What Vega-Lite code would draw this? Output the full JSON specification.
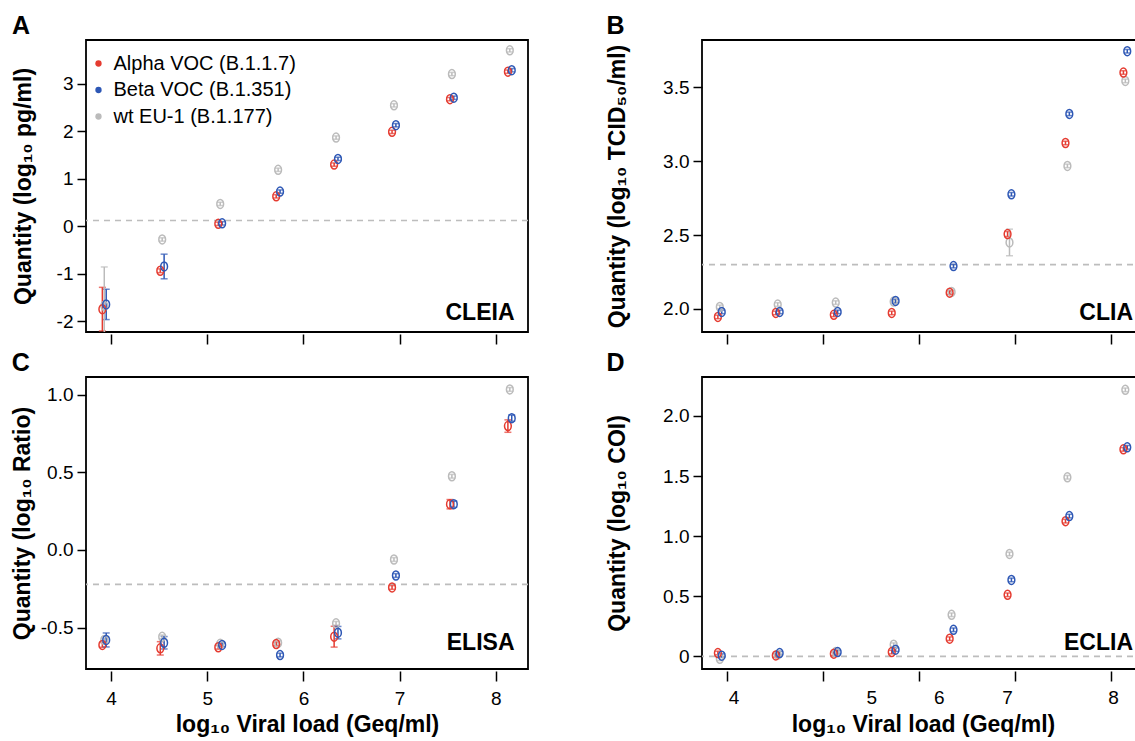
{
  "$schema": "https://vega.github.io/schema/vega-lite/v6.json",
  "padding": {"left": 10, "top": 13, "right": -8, "bottom": 0},
  "background": "white",
  "config": {
    "font": "Liberation Sans",
    "view": {"stroke": "black", "strokeWidth": 1.8},
    "axis": {"grid": false, "domain": false, "tickColor": "black", "tickWidth": 1.5, "tickSize": 9, "labelFontSize": 19, "labelColor": "black", "labelFont": "Liberation Sans", "titleFont": "Liberation Sans", "titleFontSize": 23, "titleFontWeight": "bold", "titleColor": "black", "labelPadding": 4},
    "axisX": {"offset": 2, "tickSize": 10, "labelPadding": 8, "titlePadding": 5},
    "axisY": {"labelAngle": 0},
    "title": {"fontSize": 25, "fontWeight": "bold", "anchor": "start", "frame": "bounds", "offset": 1, "color": "black", "font": "Liberation Sans"}
  },
  "datasets": {
    "cut": [{"p": "A", "c": 0.12}, {"p": "B", "c": 2.3}, {"p": "C", "c": -0.222}, {"p": "D", "c": 0}],
    "pts": [
      {"p": "A", "v": "wt EU-1 (B.1.177)", "x": 3.93, "y": -1.68, "lo": -2.5, "hi": -0.86},
      {"p": "A", "v": "wt EU-1 (B.1.177)", "x": 4.532, "y": -0.28, "lo": -0.315, "hi": -0.245},
      {"p": "A", "v": "wt EU-1 (B.1.177)", "x": 5.135, "y": 0.47, "lo": 0.435, "hi": 0.505},
      {"p": "A", "v": "wt EU-1 (B.1.177)", "x": 5.737, "y": 1.19, "lo": 1.155, "hi": 1.225},
      {"p": "A", "v": "wt EU-1 (B.1.177)", "x": 6.339, "y": 1.87, "lo": 1.835, "hi": 1.905},
      {"p": "A", "v": "wt EU-1 (B.1.177)", "x": 6.941, "y": 2.55, "lo": 2.515, "hi": 2.585},
      {"p": "A", "v": "wt EU-1 (B.1.177)", "x": 7.543, "y": 3.21, "lo": 3.175, "hi": 3.245},
      {"p": "A", "v": "wt EU-1 (B.1.177)", "x": 8.145, "y": 3.71, "lo": 3.675, "hi": 3.745},
      {"p": "A", "v": "Alpha VOC (B.1.1.7)", "x": 3.91, "y": -1.75, "lo": -2.21, "hi": -1.29},
      {"p": "A", "v": "Alpha VOC (B.1.1.7)", "x": 4.512, "y": -0.94, "lo": -0.98, "hi": -0.9},
      {"p": "A", "v": "Alpha VOC (B.1.1.7)", "x": 5.115, "y": 0.05, "lo": 0.015, "hi": 0.085},
      {"p": "A", "v": "Alpha VOC (B.1.1.7)", "x": 5.717, "y": 0.63, "lo": 0.595, "hi": 0.665},
      {"p": "A", "v": "Alpha VOC (B.1.1.7)", "x": 6.319, "y": 1.3, "lo": 1.265, "hi": 1.335},
      {"p": "A", "v": "Alpha VOC (B.1.1.7)", "x": 6.921, "y": 1.99, "lo": 1.955, "hi": 2.025},
      {"p": "A", "v": "Alpha VOC (B.1.1.7)", "x": 7.523, "y": 2.68, "lo": 2.645, "hi": 2.715},
      {"p": "A", "v": "Alpha VOC (B.1.1.7)", "x": 8.125, "y": 3.26, "lo": 3.225, "hi": 3.295},
      {"p": "A", "v": "Beta VOC (B.1.351)", "x": 3.95, "y": -1.65, "lo": -1.97, "hi": -1.33},
      {"p": "A", "v": "Beta VOC (B.1.351)", "x": 4.552, "y": -0.85, "lo": -1.11, "hi": -0.59},
      {"p": "A", "v": "Beta VOC (B.1.351)", "x": 5.155, "y": 0.06, "lo": 0.025, "hi": 0.095},
      {"p": "A", "v": "Beta VOC (B.1.351)", "x": 5.757, "y": 0.73, "lo": 0.695, "hi": 0.765},
      {"p": "A", "v": "Beta VOC (B.1.351)", "x": 6.359, "y": 1.42, "lo": 1.385, "hi": 1.455},
      {"p": "A", "v": "Beta VOC (B.1.351)", "x": 6.961, "y": 2.13, "lo": 2.095, "hi": 2.165},
      {"p": "A", "v": "Beta VOC (B.1.351)", "x": 7.563, "y": 2.71, "lo": 2.675, "hi": 2.745},
      {"p": "A", "v": "Beta VOC (B.1.351)", "x": 8.165, "y": 3.29, "lo": 3.255, "hi": 3.325},

      {"p": "B", "v": "wt EU-1 (B.1.177)", "x": 3.93, "y": 2.014, "lo": 2.002, "hi": 2.026},
      {"p": "B", "v": "wt EU-1 (B.1.177)", "x": 4.532, "y": 2.03, "lo": 2.018, "hi": 2.042},
      {"p": "B", "v": "wt EU-1 (B.1.177)", "x": 5.135, "y": 2.043, "lo": 2.031, "hi": 2.055},
      {"p": "B", "v": "wt EU-1 (B.1.177)", "x": 5.737, "y": 2.05, "lo": 2.038, "hi": 2.062},
      {"p": "B", "v": "wt EU-1 (B.1.177)", "x": 6.339, "y": 2.115, "lo": 2.103, "hi": 2.127},
      {"p": "B", "v": "wt EU-1 (B.1.177)", "x": 6.941, "y": 2.45, "lo": 2.36, "hi": 2.54},
      {"p": "B", "v": "wt EU-1 (B.1.177)", "x": 7.543, "y": 2.968, "lo": 2.956, "hi": 2.98},
      {"p": "B", "v": "wt EU-1 (B.1.177)", "x": 8.145, "y": 3.543, "lo": 3.531, "hi": 3.555},
      {"p": "B", "v": "Alpha VOC (B.1.1.7)", "x": 3.91, "y": 1.946, "lo": 1.934, "hi": 1.958},
      {"p": "B", "v": "Alpha VOC (B.1.1.7)", "x": 4.512, "y": 1.973, "lo": 1.961, "hi": 1.985},
      {"p": "B", "v": "Alpha VOC (B.1.1.7)", "x": 5.115, "y": 1.96, "lo": 1.948, "hi": 1.972},
      {"p": "B", "v": "Alpha VOC (B.1.1.7)", "x": 5.717, "y": 1.973, "lo": 1.961, "hi": 1.985},
      {"p": "B", "v": "Alpha VOC (B.1.1.7)", "x": 6.319, "y": 2.11, "lo": 2.098, "hi": 2.122},
      {"p": "B", "v": "Alpha VOC (B.1.1.7)", "x": 6.921, "y": 2.507, "lo": 2.49, "hi": 2.524},
      {"p": "B", "v": "Alpha VOC (B.1.1.7)", "x": 7.523, "y": 3.123, "lo": 3.111, "hi": 3.135},
      {"p": "B", "v": "Alpha VOC (B.1.1.7)", "x": 8.125, "y": 3.6, "lo": 3.588, "hi": 3.612},
      {"p": "B", "v": "Beta VOC (B.1.351)", "x": 3.95, "y": 1.98, "lo": 1.968, "hi": 1.992},
      {"p": "B", "v": "Beta VOC (B.1.351)", "x": 4.552, "y": 1.98, "lo": 1.968, "hi": 1.992},
      {"p": "B", "v": "Beta VOC (B.1.351)", "x": 5.155, "y": 1.98, "lo": 1.968, "hi": 1.992},
      {"p": "B", "v": "Beta VOC (B.1.351)", "x": 5.757, "y": 2.054, "lo": 2.042, "hi": 2.066},
      {"p": "B", "v": "Beta VOC (B.1.351)", "x": 6.359, "y": 2.29, "lo": 2.278, "hi": 2.302},
      {"p": "B", "v": "Beta VOC (B.1.351)", "x": 6.961, "y": 2.776, "lo": 2.764, "hi": 2.788},
      {"p": "B", "v": "Beta VOC (B.1.351)", "x": 7.563, "y": 3.32, "lo": 3.308, "hi": 3.332},
      {"p": "B", "v": "Beta VOC (B.1.351)", "x": 8.165, "y": 3.744, "lo": 3.732, "hi": 3.756},

      {"p": "C", "v": "wt EU-1 (B.1.177)", "x": 3.93, "y": -0.58, "lo": -0.592, "hi": -0.568},
      {"p": "C", "v": "wt EU-1 (B.1.177)", "x": 4.532, "y": -0.56, "lo": -0.572, "hi": -0.548},
      {"p": "C", "v": "wt EU-1 (B.1.177)", "x": 5.135, "y": -0.605, "lo": -0.617, "hi": -0.593},
      {"p": "C", "v": "wt EU-1 (B.1.177)", "x": 5.737, "y": -0.598, "lo": -0.61, "hi": -0.586},
      {"p": "C", "v": "wt EU-1 (B.1.177)", "x": 6.339, "y": -0.473, "lo": -0.485, "hi": -0.461},
      {"p": "C", "v": "wt EU-1 (B.1.177)", "x": 6.941, "y": -0.062, "lo": -0.074, "hi": -0.05},
      {"p": "C", "v": "wt EU-1 (B.1.177)", "x": 7.543, "y": 0.474, "lo": 0.462, "hi": 0.486},
      {"p": "C", "v": "wt EU-1 (B.1.177)", "x": 8.145, "y": 1.033, "lo": 1.021, "hi": 1.045},
      {"p": "C", "v": "Alpha VOC (B.1.1.7)", "x": 3.91, "y": -0.612, "lo": -0.627, "hi": -0.597},
      {"p": "C", "v": "Alpha VOC (B.1.1.7)", "x": 4.512, "y": -0.634, "lo": -0.677, "hi": -0.591},
      {"p": "C", "v": "Alpha VOC (B.1.1.7)", "x": 5.115, "y": -0.627, "lo": -0.639, "hi": -0.615},
      {"p": "C", "v": "Alpha VOC (B.1.1.7)", "x": 5.717, "y": -0.606, "lo": -0.618, "hi": -0.594},
      {"p": "C", "v": "Alpha VOC (B.1.1.7)", "x": 6.319, "y": -0.559, "lo": -0.626, "hi": -0.492},
      {"p": "C", "v": "Alpha VOC (B.1.1.7)", "x": 6.921, "y": -0.242, "lo": -0.254, "hi": -0.23},
      {"p": "C", "v": "Alpha VOC (B.1.1.7)", "x": 7.523, "y": 0.294, "lo": 0.264, "hi": 0.324},
      {"p": "C", "v": "Alpha VOC (B.1.1.7)", "x": 8.125, "y": 0.797, "lo": 0.757, "hi": 0.837},
      {"p": "C", "v": "Beta VOC (B.1.351)", "x": 3.95, "y": -0.58, "lo": -0.625, "hi": -0.535},
      {"p": "C", "v": "Beta VOC (B.1.351)", "x": 4.552, "y": -0.598, "lo": -0.638, "hi": -0.558},
      {"p": "C", "v": "Beta VOC (B.1.351)", "x": 5.155, "y": -0.612, "lo": -0.624, "hi": -0.6},
      {"p": "C", "v": "Beta VOC (B.1.351)", "x": 5.757, "y": -0.677, "lo": -0.689, "hi": -0.665},
      {"p": "C", "v": "Beta VOC (B.1.351)", "x": 6.359, "y": -0.533, "lo": -0.573, "hi": -0.493},
      {"p": "C", "v": "Beta VOC (B.1.351)", "x": 6.961, "y": -0.165, "lo": -0.177, "hi": -0.153},
      {"p": "C", "v": "Beta VOC (B.1.351)", "x": 7.563, "y": 0.294, "lo": 0.274, "hi": 0.314},
      {"p": "C", "v": "Beta VOC (B.1.351)", "x": 8.165, "y": 0.848, "lo": 0.828, "hi": 0.868},

      {"p": "D", "v": "wt EU-1 (B.1.177)", "x": 3.93, "y": -0.02, "lo": -0.035, "hi": -0.005},
      {"p": "D", "v": "wt EU-1 (B.1.177)", "x": 4.532, "y": 0.014, "lo": -0.001, "hi": 0.029},
      {"p": "D", "v": "wt EU-1 (B.1.177)", "x": 5.135, "y": 0.036, "lo": 0.021, "hi": 0.051},
      {"p": "D", "v": "wt EU-1 (B.1.177)", "x": 5.737, "y": 0.097, "lo": 0.082, "hi": 0.112},
      {"p": "D", "v": "wt EU-1 (B.1.177)", "x": 6.339, "y": 0.346, "lo": 0.331, "hi": 0.361},
      {"p": "D", "v": "wt EU-1 (B.1.177)", "x": 6.941, "y": 0.852, "lo": 0.837, "hi": 0.867},
      {"p": "D", "v": "wt EU-1 (B.1.177)", "x": 7.543, "y": 1.49, "lo": 1.475, "hi": 1.505},
      {"p": "D", "v": "wt EU-1 (B.1.177)", "x": 8.145, "y": 2.217, "lo": 2.202, "hi": 2.232},
      {"p": "D", "v": "Alpha VOC (B.1.1.7)", "x": 3.91, "y": 0.028, "lo": 0.013, "hi": 0.043},
      {"p": "D", "v": "Alpha VOC (B.1.1.7)", "x": 4.512, "y": 0.008, "lo": -0.007, "hi": 0.023},
      {"p": "D", "v": "Alpha VOC (B.1.1.7)", "x": 5.115, "y": 0.022, "lo": 0.007, "hi": 0.037},
      {"p": "D", "v": "Alpha VOC (B.1.1.7)", "x": 5.717, "y": 0.036, "lo": 0.021, "hi": 0.051},
      {"p": "D", "v": "Alpha VOC (B.1.1.7)", "x": 6.319, "y": 0.147, "lo": 0.132, "hi": 0.162},
      {"p": "D", "v": "Alpha VOC (B.1.1.7)", "x": 6.921, "y": 0.512, "lo": 0.497, "hi": 0.527},
      {"p": "D", "v": "Alpha VOC (B.1.1.7)", "x": 7.523, "y": 1.125, "lo": 1.11, "hi": 1.14},
      {"p": "D", "v": "Alpha VOC (B.1.1.7)", "x": 8.125, "y": 1.722, "lo": 1.707, "hi": 1.737},
      {"p": "D", "v": "Beta VOC (B.1.351)", "x": 3.95, "y": 0.006, "lo": -0.009, "hi": 0.021},
      {"p": "D", "v": "Beta VOC (B.1.351)", "x": 4.552, "y": 0.028, "lo": 0.013, "hi": 0.043},
      {"p": "D", "v": "Beta VOC (B.1.351)", "x": 5.155, "y": 0.036, "lo": 0.021, "hi": 0.051},
      {"p": "D", "v": "Beta VOC (B.1.351)", "x": 5.757, "y": 0.056, "lo": 0.041, "hi": 0.071},
      {"p": "D", "v": "Beta VOC (B.1.351)", "x": 6.359, "y": 0.221, "lo": 0.206, "hi": 0.236},
      {"p": "D", "v": "Beta VOC (B.1.351)", "x": 6.961, "y": 0.636, "lo": 0.621, "hi": 0.651},
      {"p": "D", "v": "Beta VOC (B.1.351)", "x": 7.563, "y": 1.167, "lo": 1.152, "hi": 1.182},
      {"p": "D", "v": "Beta VOC (B.1.351)", "x": 8.165, "y": 1.739, "lo": 1.724, "hi": 1.754}
    ]
  },
  "columns": 2,
  "spacing": {"row": 4, "column": 75},
  "resolve": {"scale": {"x": "independent", "y": "independent", "color": "independent"}, "legend": {"color": "independent"}},
  "concat": [
    {
      "title": {"text": "A"},
      "width": 442, "height": 292,
      "layer": [
        {"data": {"name": "cut"}, "transform": [{"filter": "datum.p === 'A'"}],
         "mark": {"type": "rule", "color": "#BDBDBD", "strokeWidth": 1.6, "strokeDash": [6, 5]},
         "encoding": {"y": {"field": "c", "type": "quantitative", "title": "Quantity (log₁₀ pg/ml)", "scale": {"domain": [-2.232, 3.928], "nice": false, "zero": false}}}},
        {"data": {"name": "pts"}, "transform": [{"filter": "datum.p === 'A'"}],
         "mark": {"type": "errorbar", "thickness": 1.5, "ticks": {"size": 7, "thickness": 1.5}, "clip": true},
         "encoding": {
           "x": {"field": "x", "type": "quantitative", "title": null, "scale": {"domain": [3.74, 8.334], "nice": false, "zero": false}},
           "y": {"field": "lo", "type": "quantitative", "title": "Quantity (log₁₀ pg/ml)", "scale": {"domain": [-2.232, 3.928], "nice": false, "zero": false}},
           "y2": {"field": "hi"},
           "color": {"field": "v", "type": "nominal", "scale": {"domain": ["Alpha VOC (B.1.1.7)", "Beta VOC (B.1.351)", "wt EU-1 (B.1.177)"], "range": ["#E53B30", "#2D57B5", "#BBBBBB"]},
             "legend": {"orient": "none", "legendX": 2.5, "legendY": 13.5, "title": null, "padding": 0, "labelFontSize": 20, "labelColor": "black", "labelFont": "Liberation Sans", "labelLimit": 400, "labelOffset": 5, "rowPadding": 6.5, "symbolType": "circle", "symbolSize": 12, "symbolStrokeWidth": 3.2, "symbolOpacity": 1,
               "encode": {"symbols": {"update": {"fill": {"signal": "datum.value === 'Alpha VOC (B.1.1.7)' ? '#E53B30' : datum.value === 'Beta VOC (B.1.351)' ? '#2D57B5' : '#BBBBBB'"}, "fillOpacity": {"value": 1}, "opacity": {"value": 1}, "strokeWidth": {"value": 0}, "size": {"value": 40}}}}}}}},
        {"data": {"name": "pts"}, "transform": [{"filter": "datum.p === 'A'"}],
         "mark": {"type": "point", "shape": "M-0.75,0A0.75,1,0,1,1,0.75,0A0.75,1,0,1,1,-0.75,0Z", "filled": false, "size": 81, "strokeWidth": 1.5, "opacity": 1},
         "encoding": {
           "x": {"field": "x", "type": "quantitative", "title": null, "scale": {"domain": [3.74, 8.334], "nice": false, "zero": false}, "axis": {"values": [4, 5, 6, 7, 8], "labels": false}},
           "y": {"field": "y", "type": "quantitative", "title": "Quantity (log₁₀ pg/ml)", "scale": {"domain": [-2.232, 3.928], "nice": false, "zero": false}, "axis": {"values": [-2, -1, 0, 1, 2, 3], "labelExpr": "datum.value < 0 ? '-' + format(-datum.value, 'd') : format(datum.value, 'd')", "titlePadding": 21}},
           "color": {"field": "v", "type": "nominal", "scale": {"domain": ["Alpha VOC (B.1.1.7)", "Beta VOC (B.1.351)", "wt EU-1 (B.1.177)"], "range": ["#E53B30", "#2D57B5", "#BBBBBB"]},
             "legend": {"orient": "none", "legendX": 2.5, "legendY": 13.5, "title": null, "padding": 0, "labelFontSize": 20, "labelColor": "black", "labelFont": "Liberation Sans", "labelLimit": 400, "labelOffset": 5, "rowPadding": 6.5, "symbolType": "circle", "symbolSize": 12, "symbolStrokeWidth": 3.2, "symbolOpacity": 1,
               "encode": {"symbols": {"update": {"fill": {"signal": "datum.value === 'Alpha VOC (B.1.1.7)' ? '#E53B30' : datum.value === 'Beta VOC (B.1.351)' ? '#2D57B5' : '#BBBBBB'"}, "fillOpacity": {"value": 1}, "opacity": {"value": 1}, "strokeWidth": {"value": 0}, "size": {"value": 40}}}}}}}},
        {"data": {"values": [{"t": "CLEIA"}]},
         "mark": {"type": "text", "align": "right", "baseline": "alphabetic", "dx": -13.5, "dy": -12, "fontSize": 23, "fontWeight": "bold", "color": "black"},
         "encoding": {"text": {"field": "t"}, "x": {"value": "width"}, "y": {"value": "height"}}}
      ]
    },
    {
      "title": {"text": "B"},
      "width": 442, "height": 292,
      "layer": [
        {"data": {"name": "cut"}, "transform": [{"filter": "datum.p === 'B'"}],
         "mark": {"type": "rule", "color": "#BDBDBD", "strokeWidth": 1.6, "strokeDash": [6, 5]},
         "encoding": {"y": {"field": "c", "type": "quantitative", "title": "Quantity (log₁₀ TCID₅₀/ml)", "scale": {"domain": [1.844, 3.82], "nice": false, "zero": false}}}},
        {"data": {"name": "pts"}, "transform": [{"filter": "datum.p === 'B'"}],
         "mark": {"type": "errorbar", "thickness": 1.5, "ticks": {"size": 7, "thickness": 1.5}, "clip": true},
         "encoding": {
           "x": {"field": "x", "type": "quantitative", "title": null, "scale": {"domain": [3.745, 8.339], "nice": false, "zero": false}},
           "y": {"field": "lo", "type": "quantitative", "title": "Quantity (log₁₀ TCID₅₀/ml)", "scale": {"domain": [1.844, 3.82], "nice": false, "zero": false}},
           "y2": {"field": "hi"},
           "color": {"field": "v", "type": "nominal", "scale": {"domain": ["Alpha VOC (B.1.1.7)", "Beta VOC (B.1.351)", "wt EU-1 (B.1.177)"], "range": ["#E53B30", "#2D57B5", "#BBBBBB"]}, "legend": null}}},
        {"data": {"name": "pts"}, "transform": [{"filter": "datum.p === 'B'"}],
         "mark": {"type": "point", "shape": "M-0.75,0A0.75,1,0,1,1,0.75,0A0.75,1,0,1,1,-0.75,0Z", "filled": false, "size": 81, "strokeWidth": 1.5, "opacity": 1},
         "encoding": {
           "x": {"field": "x", "type": "quantitative", "title": null, "scale": {"domain": [3.745, 8.339], "nice": false, "zero": false}, "axis": {"values": [4, 5, 6, 7, 8], "labels": false}},
           "y": {"field": "y", "type": "quantitative", "title": "Quantity (log₁₀ TCID₅₀/ml)", "scale": {"domain": [1.844, 3.82], "nice": false, "zero": false}, "axis": {"values": [2, 2.5, 3, 3.5], "format": ".1f", "titlePadding": 33}},
           "color": {"field": "v", "type": "nominal", "scale": {"domain": ["Alpha VOC (B.1.1.7)", "Beta VOC (B.1.351)", "wt EU-1 (B.1.177)"], "range": ["#E53B30", "#2D57B5", "#BBBBBB"]}, "legend": null}}},
        {"data": {"values": [{"t": "CLIA"}]},
         "mark": {"type": "text", "align": "right", "baseline": "alphabetic", "dx": -11, "dy": -12, "fontSize": 23, "fontWeight": "bold", "color": "black"},
         "encoding": {"text": {"field": "t"}, "x": {"value": "width"}, "y": {"value": "height"}}}
      ]
    },
    {
      "title": {"text": "C"},
      "width": 442, "height": 292,
      "layer": [
        {"data": {"name": "cut"}, "transform": [{"filter": "datum.p === 'C'"}],
         "mark": {"type": "rule", "color": "#BDBDBD", "strokeWidth": 1.6, "strokeDash": [6, 5]},
         "encoding": {"y": {"field": "c", "type": "quantitative", "title": "Quantity (log₁₀ Ratio)", "scale": {"domain": [-0.767, 1.113], "nice": false, "zero": false}}}},
        {"data": {"name": "pts"}, "transform": [{"filter": "datum.p === 'C'"}],
         "mark": {"type": "errorbar", "thickness": 1.5, "ticks": {"size": 7, "thickness": 1.5}, "clip": true},
         "encoding": {
           "x": {"field": "x", "type": "quantitative", "title": "log₁₀ Viral load (Geq/ml)", "scale": {"domain": [3.74, 8.334], "nice": false, "zero": false}},
           "y": {"field": "lo", "type": "quantitative", "title": "Quantity (log₁₀ Ratio)", "scale": {"domain": [-0.767, 1.113], "nice": false, "zero": false}},
           "y2": {"field": "hi"},
           "color": {"field": "v", "type": "nominal", "scale": {"domain": ["Alpha VOC (B.1.1.7)", "Beta VOC (B.1.351)", "wt EU-1 (B.1.177)"], "range": ["#E53B30", "#2D57B5", "#BBBBBB"]}, "legend": null}}},
        {"data": {"name": "pts"}, "transform": [{"filter": "datum.p === 'C'"}],
         "mark": {"type": "point", "shape": "M-0.75,0A0.75,1,0,1,1,0.75,0A0.75,1,0,1,1,-0.75,0Z", "filled": false, "size": 81, "strokeWidth": 1.5, "opacity": 1},
         "encoding": {
           "x": {"field": "x", "type": "quantitative", "title": "log₁₀ Viral load (Geq/ml)", "scale": {"domain": [3.74, 8.334], "nice": false, "zero": false}, "axis": {"values": [4, 5, 6, 7, 8], "format": "d"}},
           "y": {"field": "y", "type": "quantitative", "title": "Quantity (log₁₀ Ratio)", "scale": {"domain": [-0.767, 1.113], "nice": false, "zero": false}, "axis": {"values": [-0.5, 0, 0.5, 1], "labelExpr": "datum.value < 0 ? '-' + format(-datum.value, '.1f') : format(datum.value, '.1f')", "titlePadding": 5.5}},
           "color": {"field": "v", "type": "nominal", "scale": {"domain": ["Alpha VOC (B.1.1.7)", "Beta VOC (B.1.351)", "wt EU-1 (B.1.177)"], "range": ["#E53B30", "#2D57B5", "#BBBBBB"]}, "legend": null}}},
        {"data": {"values": [{"t": "ELISA"}]},
         "mark": {"type": "text", "align": "right", "baseline": "alphabetic", "dx": -13.5, "dy": -19, "fontSize": 23, "fontWeight": "bold", "color": "black"},
         "encoding": {"text": {"field": "t"}, "x": {"value": "width"}, "y": {"value": "height"}}}
      ]
    },
    {
      "title": {"text": "D"},
      "width": 442, "height": 292,
      "layer": [
        {"data": {"name": "cut"}, "transform": [{"filter": "datum.p === 'D'"}],
         "mark": {"type": "rule", "color": "#BDBDBD", "strokeWidth": 1.6, "strokeDash": [6, 5]},
         "encoding": {"y": {"field": "c", "type": "quantitative", "title": "Quantity (log₁₀ COI)", "scale": {"domain": [-0.105, 2.324], "nice": false, "zero": false}}}},
        {"data": {"name": "pts"}, "transform": [{"filter": "datum.p === 'D'"}],
         "mark": {"type": "errorbar", "thickness": 1.5, "ticks": {"size": 7, "thickness": 1.5}, "clip": true},
         "encoding": {
           "x": {"field": "x", "type": "quantitative", "title": "log₁₀ Viral load (Geq/ml)", "scale": {"domain": [3.745, 8.339], "nice": false, "zero": false}},
           "y": {"field": "lo", "type": "quantitative", "title": "Quantity (log₁₀ COI)", "scale": {"domain": [-0.105, 2.324], "nice": false, "zero": false}},
           "y2": {"field": "hi"},
           "color": {"field": "v", "type": "nominal", "scale": {"domain": ["Alpha VOC (B.1.1.7)", "Beta VOC (B.1.351)", "wt EU-1 (B.1.177)"], "range": ["#E53B30", "#2D57B5", "#BBBBBB"]}, "legend": null}}},
        {"data": {"name": "pts"}, "transform": [{"filter": "datum.p === 'D'"}],
         "mark": {"type": "point", "shape": "M-0.75,0A0.75,1,0,1,1,0.75,0A0.75,1,0,1,1,-0.75,0Z", "filled": false, "size": 81, "strokeWidth": 1.5, "opacity": 1},
         "encoding": {
           "x": {"field": "x", "type": "quantitative", "title": "log₁₀ Viral load (Geq/ml)", "scale": {"domain": [3.745, 8.339], "nice": false, "zero": false},
             "axis": {"values": [4, 5, 6, 7, 8], "labels": false, "titlePadding": 32}},
           "y": {"field": "y", "type": "quantitative", "title": "Quantity (log₁₀ COI)", "scale": {"domain": [-0.105, 2.324], "nice": false, "zero": false}, "axis": {"values": [0, 0.5, 1, 1.5, 2], "labelExpr": "datum.value == 0 ? '0' : format(datum.value, '.1f')", "titlePadding": 33}},
           "color": {"field": "v", "type": "nominal", "scale": {"domain": ["Alpha VOC (B.1.1.7)", "Beta VOC (B.1.351)", "wt EU-1 (B.1.177)"], "range": ["#E53B30", "#2D57B5", "#BBBBBB"]}, "legend": null}}},
        {"data": {"values": [{"lab": "4", "xl": 4.077}, {"lab": "5", "xl": 5.51}, {"lab": "6", "xl": 6.211}, {"lab": "7", "xl": 6.92}, {"lab": "8", "xl": 8.022}]},
         "mark": {"type": "text", "align": "center", "baseline": "top", "dy": 20, "fontSize": 19, "color": "black"},
         "encoding": {"text": {"field": "lab"}, "x": {"field": "xl", "type": "quantitative", "title": "log₁₀ Viral load (Geq/ml)", "scale": {"domain": [3.745, 8.339], "nice": false, "zero": false}}, "y": {"value": "height"}}},
        {"data": {"values": [{"t": "ECLIA"}]},
         "mark": {"type": "text", "align": "right", "baseline": "alphabetic", "dx": -11, "dy": -19, "fontSize": 23, "fontWeight": "bold", "color": "black"},
         "encoding": {"text": {"field": "t"}, "x": {"value": "width"}, "y": {"value": "height"}}}
      ]
    }
  ]
}
